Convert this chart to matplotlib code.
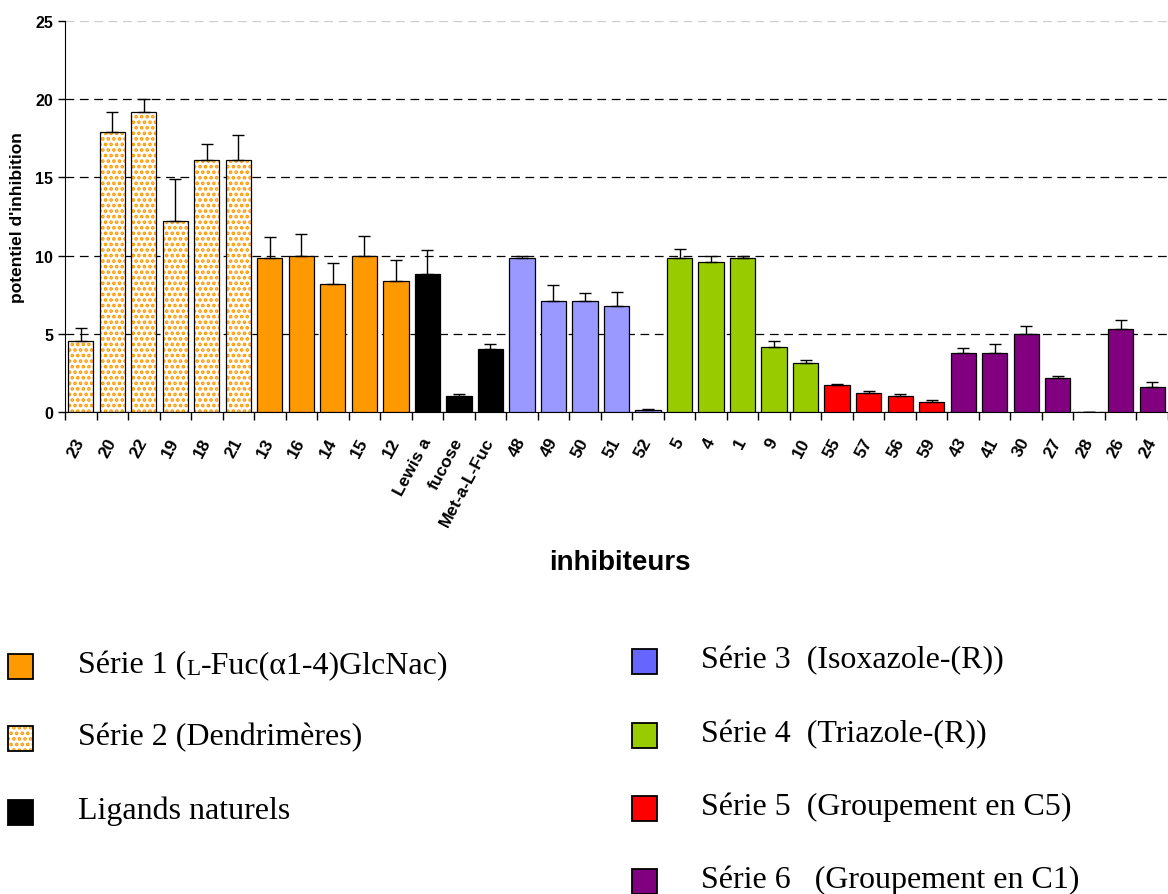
import matplotlib
matplotlib.use('Agg')
import matplotlib.pyplot as plt
from matplotlib.patches import Rectangle
import numpy as np

# inhibiteurs (ordre du graphique)
noms = ['23', '20', '22', '19', '18', '21',
        '13', '16', '14', '15', '12',
        'Lewis a', 'fucose', 'Met-a-L-Fuc',
        '48', '49', '50', '51', '52',
        '5', '4', '1', '9', '10',
        '55', '57', '56', '59',
        '43', '41', '30', '27', '28', '26', '24']
valeurs = [4.55, 17.9, 19.2, 12.2, 16.1, 16.1,
           9.85, 10.0, 8.2, 10.0, 8.35,
           8.8, 1.02, 4.05,
           9.85, 7.1, 7.1, 6.75, 0.13,
           9.85, 9.6, 9.85, 4.16, 3.15,
           1.75, 1.23, 1.02, 0.64,
           3.8, 3.8, 5.0, 2.17, 0.0, 5.33, 1.62]
erreurs = [0.8, 1.25, 0.8, 2.7, 1.05, 1.58,
           1.32, 1.4, 1.32, 1.25, 1.4,
           1.53, 0.1, 0.3,
           0.13, 1.04, 0.53, 0.94, 0.08,
           0.58, 0.36, 0.13, 0.36, 0.15,
           0.03, 0.1, 0.1, 0.1,
           0.3, 0.53, 0.53, 0.11, 0.0, 0.55, 0.3]
# serie de chaque inhibiteur : 'S2' dendrimeres, 'S1', 'N' naturels, 'S3'...'S6'
series = ['S2'] * 6 + ['S1'] * 5 + ['N'] * 3 + ['S3'] * 5 + ['S4'] * 5 + ['S5'] * 4 + ['S6'] * 7

couleurs = {'S1': '#FF9900', 'S2': 'white', 'N': 'black', 'S3': '#9999FF',
            'S4': '#99CC00', 'S5': '#FF0000', 'S6': '#800080'}

legende_droite = [('Série 3  (Isoxazole-(R))', '#6666FF'),
                  ('Série 4  (Triazole-(R))', '#99CC00'),
                  ('Série 5  (Groupement en C5)', '#FF0000'),
                  ('Série 6   (Groupement en C1)', '#800080')]

plt.rcParams['hatch.linewidth'] = 1.8

W, H = 1168, 895
fig = plt.figure(figsize=(W / 100, H / 100), dpi=100)
ax = fig.add_axes([65 / W, 1 - 413 / H, 1 - 65 / W, (413 - 22) / H])

x = np.arange(len(noms))
v = np.array(valeurs)
e = np.array(erreurs)
larg = 0.8

for s in couleurs:
    idx = [i for i, ss in enumerate(series) if ss == s]
    if s == 'S2':
        ax.bar(x[idx], v[idx], width=larg, color='white', edgecolor='#FF9900',
               hatch='...', linewidth=0, zorder=2)
        ax.bar(x[idx], v[idx], width=larg, fill=False, edgecolor='black',
               linewidth=0.9, zorder=3)
    else:
        ax.bar(x[idx], v[idx], width=larg, color=couleurs[s], edgecolor='black',
               linewidth=0.9, zorder=3)

ax.errorbar(x, v, yerr=[np.zeros_like(e), e], fmt='none', ecolor='black',
            elinewidth=1, capsize=4, capthick=1, zorder=4)

ax.set_xlim(-0.5, len(noms) - 0.5)
ax.set_ylim(0, 25)
ax.set_yticks([0, 5, 10, 15, 20, 25])
ax.yaxis.grid(True, linestyle=(0, (7, 4.5)), color='black', linewidth=0.9)
ax.get_ygridlines()[-1].set_color('#cccccc')
ax.set_axisbelow(True)

ax.set_xticks(np.arange(len(noms) + 1) - 0.5)
ax.set_xticklabels([])
ax.set_xticks(x, minor=True)
ax.set_xticklabels(noms, minor=True, rotation=62, ha='right', va='center',
                   rotation_mode='anchor', fontweight='bold', fontsize=12.5,
                   family='Liberation Sans')
ax.tick_params(axis='x', which='major', length=6, direction='out', width=1)
ax.tick_params(axis='x', which='minor', length=0, pad=19)
ax.tick_params(axis='y', length=5, width=1, labelsize=11.5)
for t in ax.get_yticklabels():
    t.set_fontweight('bold')
    t.set_family('Liberation Sans')

for sp in ['top', 'right']:
    ax.spines[sp].set_visible(False)

ax.set_ylabel("potentiel d'inhibition", fontsize=12.5, fontweight='bold',
              family='Liberation Sans', labelpad=7)
fig.text(620 / W, 1 - 563 / H, 'inhibiteurs', fontsize=20, fontweight='bold',
         family='Liberation Sans', ha='center', va='center')

# legende
fs = 23
serif = 'Liberation Serif'

def carre(px, base, couleur, motif=False):
    pos = (px / W, 1 - (base + 7) / H)
    if motif:
        fig.add_artist(Rectangle(pos, 25 / W, 25 / H, transform=fig.transFigure,
                                 facecolor='white', edgecolor='#FF9900', hatch='...',
                                 linewidth=0))
        fig.add_artist(Rectangle(pos, 25 / W, 25 / H, transform=fig.transFigure,
                                 fill=False, edgecolor='black', linewidth=1.3))
    else:
        fig.add_artist(Rectangle(pos, 25 / W, 25 / H, transform=fig.transFigure,
                                 facecolor=couleur, edgecolor='black', linewidth=1.3))

bases_g = [673, 745, 819]
carre(8, bases_g[0], '#FF9900')
t1 = fig.text(78 / W, 1 - bases_g[0] / H, 'Série 1 (', fontsize=fs, family=serif,
              va='baseline')
t2 = ax.annotate('L', xy=(1, 0), xycoords=t1, fontsize=fs * 0.72, family=serif,
                 va='bottom', ha='left', annotation_clip=False)
ax.annotate('-Fuc(α1-4)GlcNac)', xy=(1, 0), xycoords=t2, fontsize=fs, family=serif,
            va='bottom', ha='left', annotation_clip=False)
carre(8, bases_g[1], None, motif=True)
fig.text(78 / W, 1 - bases_g[1] / H, 'Série 2 (Dendrimères)', fontsize=fs,
         family=serif, va='baseline')
carre(8, bases_g[2], 'black')
fig.text(78 / W, 1 - bases_g[2] / H, 'Ligands naturels', fontsize=fs, family=serif,
         va='baseline')

bases_d = [668, 742, 815, 888]
for (lab, c), b in zip(legende_droite, bases_d):
    carre(632, b, c)
    fig.text(701 / W, 1 - b / H, lab, fontsize=fs, family=serif, va='baseline')

fig.savefig('out.png', dpi=100)
